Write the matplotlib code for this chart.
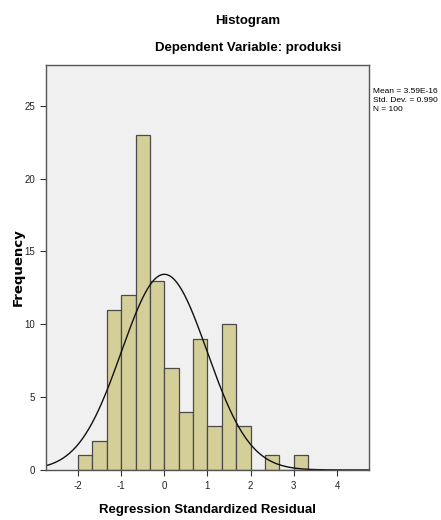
import numpy as np
import matplotlib
matplotlib.use("Agg")
import matplotlib.pyplot as plt

# histogram of standardized residuals
binStart = -2.0
binWidth = 1.0 / 3.0
counts = [1, 2, 11, 12, 23, 13, 7, 4, 9, 3, 10, 3, 0, 1, 0, 1]
meanVal = 3.59e-16
stdVal = 0.990
nVal = 100
xTicks = [-2, -1, 0, 1, 2, 3, 4]
yTicks = [0, 5, 10, 15, 20, 25]

plt.rcParams['font.family'] = ['Liberation Sans', 'DejaVu Sans']
plt.rcParams['axes.unicode_minus'] = False

fig = plt.figure(figsize=(4.41, 5.2), dpi=100)
ax = fig.add_axes([0.1043, 0.0962, 0.7324, 0.7788])
ax.set_facecolor('#F0F0F0')

edges = binStart + binWidth * np.arange(len(counts) + 1)
ax.bar(edges[:-1], counts, width=binWidth, align='edge',
       color='#D4CF98', edgecolor='#4a4a4a', linewidth=0.9)

# normal curve scaled to counts
xs = np.linspace(-2.74, 4.74, 400)
ys = nVal * binWidth / (stdVal * np.sqrt(2 * np.pi)) * np.exp(-0.5 * ((xs - meanVal) / stdVal) ** 2)
ax.plot(xs, ys, color='#111111', linewidth=1.0)

ax.set_xlim(-2.74, 4.74)
ax.set_ylim(0, 27.8)
ax.set_xticks(xTicks)
ax.set_yticks(yTicks)
ax.tick_params(labelsize=7, length=4, color='#333333', labelcolor='#222222', pad=4)
for s in ax.spines.values():
    s.set_color('#555555')
    s.set_linewidth(1.0)

ax.set_xlabel('Regression Standardized Residual', fontsize=9.5, fontweight='bold', labelpad=9)
fig.text(0.041, 0.4865, 'Frequency', rotation=90, ha='center', va='center',
         fontsize=9.5, fontweight='bold', family=['DejaVu Sans'])

fig.text(0.562, 0.96, 'Histogram', ha='center', va='center', fontsize=9.5, fontweight='bold')
fig.text(0.562, 0.907, 'Dependent Variable: produksi', ha='center', va='center', fontsize=9.5, fontweight='bold')

fig.text(0.845, 0.831, 'Mean = 3.59E-16\nStd. Dev. = 0.990\nN = 100',
         ha='left', va='top', fontsize=6.0, linespacing=1.45)

plt.savefig('out.png', dpi=100)
